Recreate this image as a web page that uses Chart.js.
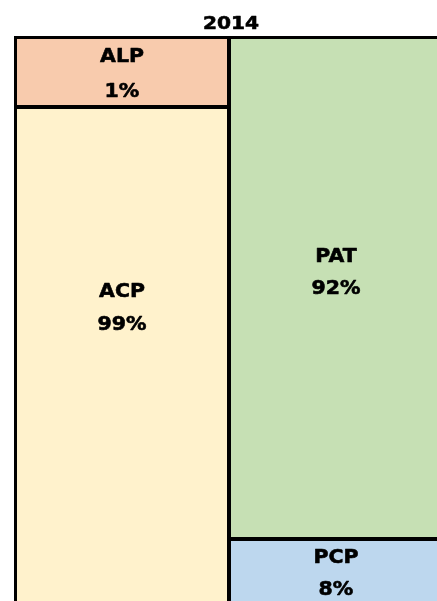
<!DOCTYPE html>
<html>
<head>
<meta charset="utf-8">
<script src="https://cdn.jsdelivr.net/npm/chart.js@4/dist/chart.umd.min.js"></script>
<style>
  html, body { margin: 0; padding: 0; background: #ffffff; overflow: hidden; width: 437px; height: 601px; }
  #wrap { position: absolute; left: 0; top: 0; width: 460px; height: 620px; }
</style>
</head>
<body>
<div id="wrap"><canvas id="c" width="460" height="620"></canvas></div>
<script>
// ---- data ----
const chartTitle = '2014';
const columns = ['A', 'P'];
// bottom tiles of each column
const bottomNames = ['ACP', 'PCP'];
const bottomShareLabel = [99, 8];      // percentages printed in the tiles
const bottomTileHeight = [87.8, 12.4]; // tile height as drawn (share of column, estimated)
// top tiles of each column
const topNames = ['ALP', 'PAT'];
const topShareLabel = [1, 92];
const topTileHeight = [12.2, 87.6];

const bottomColors = ['#FFF2CC', '#BDD7EE'];
const topColors = ['#F8CBAD', '#C6E0B4'];

const FONT = '"DejaVu Sans", Verdana, sans-serif';

function wideText(ctx, text, x, y, sx, weight) {
  ctx.save();
  ctx.translate(x, y);
  ctx.scale(sx, 1);
  ctx.fillText(text, 0, 0);
  if (weight > 0) {
    ctx.lineWidth = weight;
    ctx.lineJoin = 'round';
    ctx.strokeStyle = ctx.fillStyle;
    ctx.strokeText(text, 0, 0);
  }
  ctx.restore();
}

const titleText = {
  id: 'titleText',
  afterDraw(chart, args, opts) {
    const a = chart.chartArea, ctx = chart.ctx;
    ctx.save();
    ctx.fillStyle = '#000';
    ctx.font = 'bold ' + opts.size + 'px ' + FONT;
    ctx.textAlign = 'center';
    ctx.textBaseline = 'middle';
    wideText(ctx, opts.text, (a.left + a.right) / 2 + opts.dx, a.top - opts.above, opts.stretch, opts.weight);
    ctx.restore();
  }
};

const tileBorders = {
  id: 'tileBorders',
  afterDatasetsDraw(chart, args, opts) {
    const a = chart.chartArea, ctx = chart.ctx;
    ctx.save();
    ctx.beginPath();
    ctx.rect(a.left - 1, a.top - 1, a.right - a.left + 2, a.bottom - a.top + 2);
    ctx.clip();
    ctx.strokeStyle = opts.color;
    ctx.lineWidth = opts.width;
    chart.data.datasets.forEach((ds, di) => {
      chart.getDatasetMeta(di).data.forEach(el => {
        const l = Math.round(el.x - el.width / 2), r = Math.round(el.x + el.width / 2);
        const t = Math.round(Math.min(el.y, el.base)), b = Math.round(Math.max(el.y, el.base));
        ctx.strokeRect(l, t, r - l, b - t);
      });
    });
    ctx.restore();
  }
};

const tileLabels = {
  id: 'tileLabels',
  afterDatasetsDraw(chart, args, opts) {
    const ctx = chart.ctx;
    ctx.save();
    ctx.fillStyle = '#000';
    ctx.font = 'bold ' + opts.size + 'px ' + FONT;
    ctx.textAlign = 'center';
    ctx.textBaseline = 'middle';
    chart.data.datasets.forEach((ds, di) => {
      const meta = chart.getDatasetMeta(di);
      meta.data.forEach((el, i) => {
        const top = Math.min(el.y, el.base), bot = Math.max(el.y, el.base);
        const cy = top + opts.anchor[di][i] * (bot - top);
        const gap = opts.gap[di][i];
        wideText(ctx, ds.names[i], el.x, cy - gap / 2, opts.stretch, opts.weight);
        wideText(ctx, ds.shares[i] + '%', el.x, cy + gap / 2, opts.stretch, opts.weight);
      });
    });
    ctx.restore();
  }
};

new Chart(document.getElementById('c'), {
  type: 'bar',
  data: {
    labels: columns,
    datasets: [
      { label: 'bottom', names: bottomNames, shares: bottomShareLabel, data: bottomTileHeight,
        backgroundColor: bottomColors, borderWidth: 0,
        barPercentage: 1, categoryPercentage: 1, inflateAmount: 0.5 },
      { label: 'top', names: topNames, shares: topShareLabel, data: topTileHeight,
        backgroundColor: topColors, borderWidth: 0,
        barPercentage: 1, categoryPercentage: 1, inflateAmount: 0.5 }
    ]
  },
  options: {
    responsive: false,
    animation: false,
    layout: { padding: { left: 15, right: 17, top: 37, bottom: 10 } },
    scales: {
      x: { stacked: true, display: false, grid: { display: false } },
      y: { stacked: true, display: false, min: 0, max: 100, grid: { display: false } }
    },
    plugins: {
      legend: { display: false },
      tooltip: { enabled: false },
      title: { display: false },
      titleText: { text: chartTitle, size: 18, stretch: 1.12, above: 13, dx: 2, weight: 0.6 },
      tileBorders: { color: '#000', width: 4 },
      tileLabels: {
        size: 19.5,
        stretch: 1.05,
        weight: 0.6,
        anchor: [[0.40, 0.49], [0.53, 0.47]],
        gap: [[33, 32], [35, 32]]
      }
    }
  },
  plugins: [tileBorders, tileLabels, titleText]
});
</script>
</body>
</html>
